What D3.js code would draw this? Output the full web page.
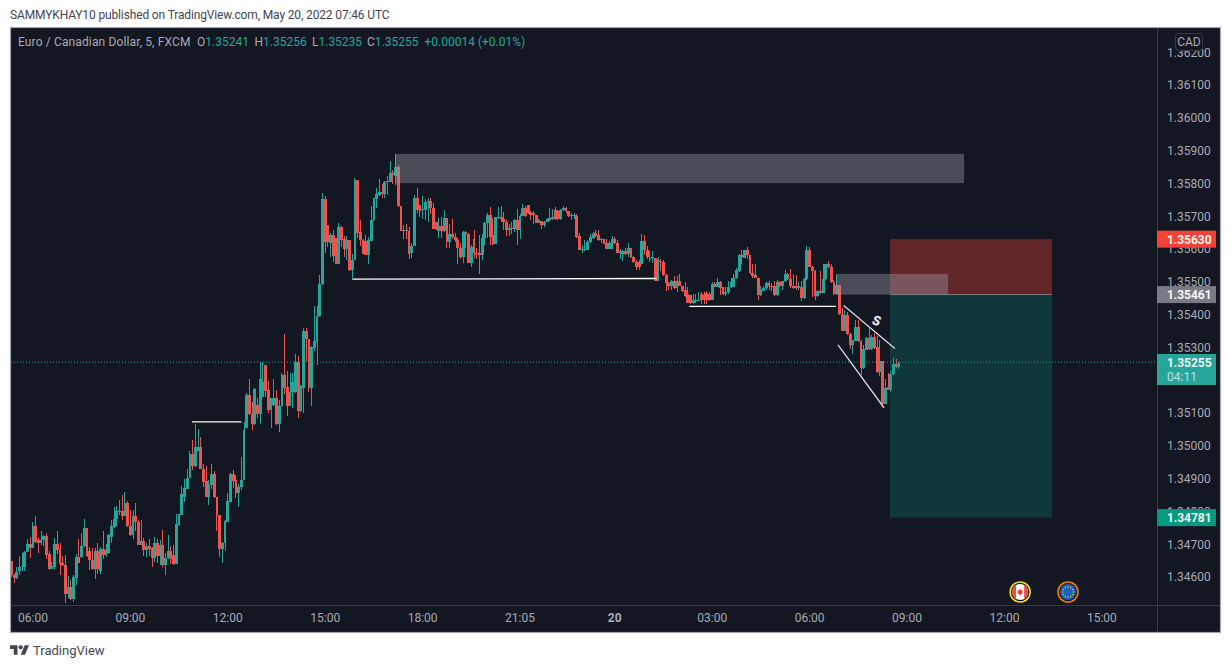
<!DOCTYPE html>
<html>
<head>
<meta charset="utf-8">
<script src="https://cdn.jsdelivr.net/npm/d3@7/dist/d3.min.js"></script>
<style>
html, body { margin: 0; padding: 0; background: #fff; }
svg { display: block; }
text { font-family: Roboto, sans-serif; font-size: 12px; }
</style>
</head>
<body>
<div id="chart"></div>
<script>
// EUR/CAD 5 minute bars, prices x 100000
const opens = [134648,134607,134598,134619,134630,134632,134677,134700,134688,134757,134712,134704,134714,134724,134670,134625,134630,134700,134685,134643,134636,134547,134571,134532,134598,134661,134660,134693,134748,134680,134652,134625,134679,134617,134685,134667,134673,134722,134752,134777,134800,134802,134787,134827,134757,134727,134787,134769,134698,134709,134683,134694,134687,134659,134705,134665,134697,134638,134657,134679,134667,134640,134760,134790,134843,134869,134903,134975,134938,134985,134997,134930,134892,134845,134880,134915,134843,134790,134685,134704,134769,134830,134913,134895,134857,134873,134897,
135055,135155,135098,135065,135124,135098,135150,135247,135169,135110,135125,135145,135067,135120,135217,135178,135122,135163,135163,135255,135105,135177,135349,135327,135175,135298,135317,135395,135493,135751,135673,135617,135643,135633,135553,135667,135629,135601,135628,135535,135565,135811,135652,135627,135625,135583,135625,135687,135751,135765,135775,135767,135803,135805,135832,135823,135850,135730,135655,135658,135655,135587,135610,135754,135735,135718,135718,135742,
135747,135724,135682,135655,135669,135655,135693,135621,135645,135637,135627,135603,135576,135651,135647,135558,135629,135587,135589,135582,135635,135679,135705,135642,135615,135695,135697,135692,135682,135657,135664,135660,135687,135657,135702,135725,135735,135712,135709,135705,135680,135684,135672,135683,135689,135692,135719,135717,135690,135719,135725,135717,135700,135701,135702,135639,135597,135597,135597,135620,135635,135649,135642,135627,135630,135619,135600,135600,135631,135617,135589,135586,135594,135586,135602,135577,135561,135559,135555,135625,135597,
135568,135573,135573,135501,135563,135560,135520,135496,135486,135503,135481,135503,135488,135475,135463,135460,135435,135441,135441,135463,135461,135465,135463,135443,135493,135485,135500,135483,135463,135468,135483,135485,135511,135533,135583,135573,135597,135581,135528,135521,135513,135461,135473,135481,135495,135488,135488,135461,135498,135488,135501,135525,135508,135488,135488,135480,135485,135451,135508,135596,135546,135533,135456,135473,135466,135508,135553,135545,135498,135463,135491,135401,135351,135398,135340,135308,135321,135363,135318,135236,135293,135328,135295,135331,135301,135225,135260,135128,135179,135171,135218,135248,135241];
const highs = [134648,134609,134632,134663,134673,134679,134715,134723,134769,134787,134720,134739,134727,134735,134678,134645,134720,134739,134705,134665,134667,134604,134590,134606,134669,134715,134733,134778,134748,134690,134687,134688,134705,134692,134739,134701,134730,134775,134813,134815,134835,134850,134858,134832,134805,134805,134825,134773,134775,134720,134705,134717,134690,134721,134717,134713,134742,134673,134727,134693,134697,134793,134793,134877,134900,134930,134985,135017,135067,135051,135027,134945,134938,134897,134945,134923,134843,134790,134707,134773,134857,134917,134927,134910,134885,134967,135072,
135160,135205,135133,135175,135145,135257,135257,135247,135197,135147,135205,135169,135140,135223,135340,135229,135223,135223,135280,135273,135185,135358,135358,135327,135305,135427,135427,135520,135772,135763,135673,135649,135658,135635,135679,135670,135640,135640,135628,135585,135817,135811,135688,135630,135643,135637,135730,135757,135785,135813,135797,135807,135823,135868,135840,135889,135857,135730,135673,135675,135667,135619,135766,135787,135735,135763,135752,135757,
135755,135740,135682,135694,135697,135720,135693,135677,135690,135649,135635,135617,135654,135655,135650,135612,135657,135602,135642,135647,135682,135710,135727,135694,135697,135727,135731,135714,135687,135677,135682,135690,135723,135707,135737,135730,135735,135717,135715,135705,135692,135684,135685,135695,135725,135722,135727,135719,135723,135732,135727,135717,135709,135709,135707,135649,135612,135627,135627,135645,135652,135659,135659,135635,135632,135629,135625,135639,135637,135627,135600,135597,135602,135617,135602,135580,135567,135567,135645,135642,135610,
135593,135593,135573,135575,135568,135565,135523,135498,135505,135518,135518,135523,135488,135498,135485,135461,135463,135463,135470,135468,135468,135471,135468,135498,135498,135513,135503,135485,135483,135501,135513,135523,135541,135585,135598,135598,135605,135583,135553,135555,135513,135488,135488,135498,135501,135495,135503,135505,135503,135503,135535,135528,135538,135523,135520,135498,135503,135513,135608,135607,135548,135535,135475,135533,135553,135555,135563,135553,135505,135520,135491,135421,135413,135408,135343,135323,135383,135385,135323,135308,135333,135358,135338,135345,135335,135323,135260,135203,135223,135228,135268,135265,135256];
const lows = [134601,134583,134595,134605,134617,134617,134675,134659,134688,134705,134673,134699,134695,134655,134620,134623,134625,134671,134607,134635,134520,134535,134529,134523,134577,134644,134659,134691,134660,134622,134620,134595,134610,134610,134655,134661,134670,134705,134749,134755,134790,134775,134785,134753,134725,134715,134740,134697,134697,134665,134662,134665,134629,134647,134643,134637,134632,134605,134655,134640,134638,134640,134757,134790,134830,134867,134901,134925,134935,134983,134928,134875,134843,134820,134867,134840,134740,134661,134643,134679,134767,134830,134870,134841,134812,134865,134895,
135055,135095,135047,135063,135085,135067,135150,135150,135100,135055,135120,135063,135043,135117,135157,135090,135120,135115,135160,135085,135103,135100,135255,135163,135122,135290,135245,135392,135490,135587,135605,135575,135560,135553,135553,135605,135575,135565,135533,135511,135565,135633,135610,135585,135583,135553,135623,135685,135725,135763,135755,135755,135765,135803,135797,135795,135727,135655,135631,135631,135569,135572,135610,135709,135697,135690,135688,135683,
135707,135660,135657,135634,135635,135653,135603,135604,135630,135620,135553,135571,135558,135602,135558,135545,135572,135569,135525,135567,135612,135635,135612,135613,135615,135690,135682,135657,135640,135640,135647,135652,135612,135629,135700,135697,135707,135687,135677,135679,135679,135661,135667,135682,135685,135689,135689,135689,135687,135715,135711,135699,135689,135692,135635,135597,135589,135593,135597,135619,135632,135637,135625,135617,135614,135599,135599,135600,135615,135587,135570,135562,135582,135575,135574,135557,135537,135535,135555,135582,135569,
135561,135558,135501,135501,135533,135518,135473,135475,135475,135478,135468,135486,135468,135453,135435,135433,135433,135435,135440,135431,135431,135433,135441,135443,135483,135483,135461,135461,135458,135463,135481,135483,135508,135531,135553,135573,135571,135525,135513,135511,135446,135458,135471,135475,135475,135473,135458,135458,135485,135475,135498,135505,135481,135478,135475,135475,135441,135448,135506,135544,135453,135443,135453,135463,135465,135505,135541,135496,135461,135461,135399,135351,135350,135338,135296,135281,135318,135315,135215,135234,135291,135291,135291,135296,135223,135213,135118,135126,135169,135163,135216,135238,135235];
const closes = [134605,134598,134615,134630,134633,134677,134700,134688,134757,134708,134704,134714,134724,134668,134625,134633,134700,134683,134641,134636,134547,134571,134532,134601,134661,134644,134695,134748,134664,134652,134625,134679,134625,134685,134667,134683,134727,134754,134778,134802,134802,134787,134827,134755,134727,134787,134767,134698,134709,134683,134694,134685,134659,134705,134665,134697,134637,134658,134679,134655,134640,134762,134792,134853,134871,134903,134975,134938,134995,134997,134928,134889,134845,134880,134915,134843,134790,134685,134705,134771,134832,134913,134893,134857,134875,134897,135047,
135155,135098,135065,135173,135098,135205,135195,135167,135110,135145,135145,135067,135120,135217,135175,135122,135165,135193,135255,135107,135183,135349,135325,135175,135301,135318,135397,135493,135751,135620,135620,135643,135580,135553,135667,135627,135601,135628,135535,135567,135811,135650,135627,135585,135583,135628,135688,135754,135769,135775,135767,135805,135808,135832,135827,135850,135730,135655,135658,135655,135585,135610,135754,135718,135715,135721,135742,135745,
135724,135660,135660,135669,135655,135693,135621,135645,135637,135627,135603,135576,135651,135647,135558,135606,135587,135585,135582,135635,135679,135705,135637,135615,135697,135697,135692,135682,135657,135664,135660,135687,135657,135702,135725,135700,135711,135704,135703,135680,135687,135672,135683,135692,135695,135699,135690,135691,135719,135725,135715,135700,135704,135704,135637,135597,135600,135600,135622,135637,135647,135640,135627,135629,135615,135600,135617,135631,135617,135589,135595,135594,135586,135602,135575,135559,135545,135545,135625,135597,135575,
135573,135575,135501,135571,135560,135520,135496,135486,135503,135481,135503,135488,135473,135458,135435,135435,135445,135446,135446,135443,135445,135443,135443,135493,135485,135500,135481,135463,135470,135485,135498,135513,135535,135583,135577,135597,135581,135528,135518,135513,135461,135475,135481,135495,135488,135485,135461,135498,135488,135501,135525,135508,135488,135481,135480,135488,135451,135508,135596,135546,135533,135456,135473,135466,135508,135553,135545,135498,135463,135491,135401,135351,135398,135340,135308,135321,135363,135318,135236,135296,135328,135295,135333,135298,135225,135260,135128,135175,135171,135220,135248,135240,135255];

const priceTicks = [136200,136100,136000,135900,135800,135700,135600,135500,135400,135300,135200,135100,135000,134900,134800,134700,134600];
const timeBars = [8,44,80,116,152,188,223,259,295,331,367,403];
const timeLabels = ['06:00','09:00','12:00','15:00','18:00','21:05','20','03:00','06:00','09:00','12:00','15:00'];

// drawings on the chart: [bar, price, bar, price]
const swingLines = [[66.8,135073,85,135073],[126,135508,238.5,135510],[250.5,135425,304.7,135425]];
const channelLines = [[307.6,135428,326.5,135297],[305.5,135308,322.5,135116]];
const zoneBars = [[141.8,352.1],[304.8,346.2]];
const zonePrices = [[135890,135801],[135524,135461]];

// short position tool
const posBars = [324.7,384.6];
const entryPrice = 135461, stopPrice = 135630, targetPrice = 134781, lastPrice = 135255;

const legendNames = ['O','H','L','C'];
const legendValues = ['1.35241','1.35256','1.35235','1.35255'];
const eventBars = [372.8,390.5];

const width = 1231, height = 668;
const plot = {left: 11, right: 1157, top: 28, bottom: 605};
const green = '#26a69a', red = '#ef5350', axisText = '#a8abb5', lineCol = '#363a45';

const svg = d3.select('#chart').append('svg').attr('width', width).attr('height', height);

svg.append('text').attr('x', 10).attr('y', 19).attr('fill', '#434651').style('letter-spacing', '-0.14px')
	.text('SAMMYKHAY10 published on TradingView.com, May 20, 2022 07:46 UTC');

svg.append('rect').attr('x', 10.5).attr('y', 27.5).attr('width', 1210).attr('height', 605)
	.attr('fill', '#131722').attr('stroke', '#a3a6af').attr('stroke-width', 1.2);

svg.append('clipPath').attr('id', 'plotclip').append('rect')
	.attr('x', plot.left).attr('y', plot.top).attr('width', plot.right - plot.left).attr('height', plot.bottom - plot.top);

// one bar is 2.706px, 36 bars to 3 hours
const x = d3.scaleLinear().domain([0, 328]).range([11.3, 898.9]);
const y = d3.scaleLinear().domain([136100, 134600]).range([85, 577]);

const chart = svg.append('g').attr('clip-path', 'url(#plotclip)');
const bars = d3.range(closes.length);

// last price dotted line goes under the candles
chart.append('line').attr('x1', plot.left).attr('x2', plot.right).attr('y1', y(lastPrice)).attr('y2', y(lastPrice))
	.attr('stroke', green).attr('stroke-dasharray', '1 2');

const candle = chart.selectAll('.bar').data(bars).enter().append('g').attr('class', 'bar')
	.attr('shape-rendering', 'crispEdges');
candle.append('line')
	.attr('x1', d => x(d)).attr('x2', d => x(d))
	.attr('y1', d => y(highs[d])).attr('y2', d => y(lows[d]))
	.attr('stroke', d => closes[d] >= opens[d] ? green : red);
candle.append('rect')
	.attr('x', d => x(d) - 1.4).attr('width', 2.8)
	.attr('y', d => y(Math.max(opens[d], closes[d])))
	.attr('height', d => Math.max(1, Math.abs(y(opens[d]) - y(closes[d]))))
	.attr('fill', d => closes[d] >= opens[d] ? green : red);

// position tool
chart.append('rect').attr('x', x(posBars[0])).attr('width', x(posBars[1]) - x(posBars[0]))
	.attr('y', y(stopPrice)).attr('height', y(entryPrice) - y(stopPrice)).attr('fill', 'rgba(242,67,54,0.36)');
chart.append('rect').attr('x', x(posBars[0])).attr('width', x(posBars[1]) - x(posBars[0]))
	.attr('y', y(entryPrice)).attr('height', y(targetPrice) - y(entryPrice)).attr('fill', 'rgba(8,153,129,0.25)');
chart.append('line').attr('x1', x(posBars[0])).attr('x2', x(posBars[1])).attr('y1', y(entryPrice)).attr('y2', y(entryPrice))
	.attr('stroke', '#787b86');

// grey zones
zoneBars.forEach((b, i) => {
	chart.append('rect').attr('x', x(b[0])).attr('width', x(b[1]) - x(b[0]))
		.attr('y', y(zonePrices[i][0])).attr('height', y(zonePrices[i][1]) - y(zonePrices[i][0]))
		.attr('fill', 'rgba(149,152,161,0.42)');
});

// hand drawn lines
chart.selectAll('.swing').data(swingLines).enter().append('line').attr('class', 'swing')
	.attr('x1', d => x(d[0])).attr('y1', d => y(d[1])).attr('x2', d => x(d[2])).attr('y2', d => y(d[3]))
	.attr('stroke', '#fff').attr('stroke-width', 1.3);
chart.selectAll('.channel').data(channelLines).enter().append('line').attr('class', 'channel')
	.attr('x1', d => x(d[0])).attr('y1', d => y(d[1])).attr('x2', d => x(d[2])).attr('y2', d => y(d[3]))
	.attr('stroke', '#d8dae0').attr('stroke-width', 1.3);
chart.append('text').attr('transform', 'translate(875.5,325) rotate(12)').attr('text-anchor', 'middle')
	.attr('fill', '#fff').attr('stroke', '#b2b5be').attr('stroke-width', 0.4)
	.style('font-size', '13px').style('font-style', 'italic').style('font-weight', 700).text('S');

// axes
svg.append('line').attr('x1', plot.right + 0.5).attr('x2', plot.right + 0.5).attr('y1', 28).attr('y2', 632).attr('stroke', lineCol);
svg.append('line').attr('x1', 11).attr('x2', 1220).attr('y1', plot.bottom + 0.5).attr('y2', plot.bottom + 0.5).attr('stroke', lineCol);

const yAxis = svg.append('g').attr('transform', 'translate(' + plot.right + ',0)')
	.call(d3.axisRight(y).tickValues(priceTicks).tickSize(0).tickPadding(10).tickFormat(d => (d / 1e5).toFixed(5)));
yAxis.select('.domain').remove();
yAxis.selectAll('text').attr('fill', axisText).style('font-size', '12px').style('font-family', 'Roboto, sans-serif');

const xAxis = svg.append('g').attr('transform', 'translate(-0.5,' + plot.bottom + ')')
	.call(d3.axisBottom(x).tickValues(timeBars).tickSize(0).tickPadding(8).tickFormat((d, i) => timeLabels[i]));
xAxis.select('.domain').remove();
xAxis.selectAll('text').attr('fill', axisText).style('font-size', '12px').style('font-family', 'Roboto, sans-serif')
	.style('font-weight', (d, i) => timeLabels[i] == '20' ? 700 : 400);

// legend on top of the plot
svg.append('text').attr('x', 18).attr('y', 46).attr('fill', axisText).style('letter-spacing', '0.13px').text('Euro / Canadian Dollar, 5, FXCM');
const legendX = [197, 254.5, 312, 367];
legendNames.forEach((n, i) => {
	const t = svg.append('text').attr('x', legendX[i]).attr('y', 46).attr('fill', axisText);
	t.append('tspan').text(n);
	t.append('tspan').attr('fill', green).text(legendValues[i]);
});
svg.append('text').attr('x', 424.5).attr('y', 46).attr('fill', green).text('+0.00014 (+0.01%)');

// currency button
svg.append('rect').attr('x', 1175.5).attr('y', 33.5).attr('width', 27).attr('height', 17).attr('rx', 3)
	.attr('fill', '#131722').attr('stroke', lineCol);
svg.append('text').attr('x', 1189).attr('y', 46).attr('text-anchor', 'middle').attr('fill', axisText).text('CAD');

// price badges
function badge(price, col) {
	const cy = y(price);
	svg.append('rect').attr('x', 1157).attr('y', cy - 8.5).attr('width', 59).attr('height', 17).attr('fill', col);
	svg.append('text').attr('x', 1167).attr('y', cy + 4.5).attr('fill', '#fff').style('font-weight', 600).text((price / 1e5).toFixed(5));
}
badge(stopPrice, '#f44336');
badge(entryPrice, '#787b86');
badge(targetPrice, '#089981');
svg.append('rect').attr('x', 1157).attr('y', 354).attr('width', 59).attr('height', 31).attr('fill', green);
svg.append('text').attr('x', 1167).attr('y', 367).attr('fill', '#fff').style('font-weight', 600).text((lastPrice / 1e5).toFixed(5));
svg.append('text').attr('x', 1167).attr('y', 381).attr('fill', 'rgba(255,255,255,0.7)').text('04:11');

// event icons on the time axis edge
const eventY = 592;
const defs = svg.append('defs');
defs.append('clipPath').attr('id', 'flagclip').append('circle').attr('r', 8);
const ca = svg.append('g').attr('transform', 'translate(' + x(eventBars[0]) + ',' + eventY + ')');
ca.append('circle').attr('r', 10).attr('fill', '#131722').attr('stroke', '#f5dc2a').attr('stroke-width', 1.6);
const caFlag = ca.append('g').attr('clip-path', 'url(#flagclip)');
caFlag.append('rect').attr('x', -8).attr('y', -8).attr('width', 16).attr('height', 16).attr('fill', '#fff');
caFlag.append('rect').attr('x', -8).attr('y', -8).attr('width', 4).attr('height', 16).attr('fill', '#ef4b4b');
caFlag.append('rect').attr('x', 4).attr('y', -8).attr('width', 4).attr('height', 16).attr('fill', '#ef4b4b');
ca.append('path').attr('d', 'M0 -3.5L1 -1.5L2.6 -2L2 0.6L3 1L0.5 2.4V3.6H-0.5V2.4L-3 1L-2 0.6L-2.6 -2L-1 -1.5Z').attr('fill', '#e53935');
const eu = svg.append('g').attr('transform', 'translate(' + x(eventBars[1]) + ',' + eventY + ')');
eu.append('circle').attr('r', 10).attr('fill', '#131722').attr('stroke', '#f57c00').attr('stroke-width', 1.6);
eu.append('circle').attr('r', 8).attr('fill', '#1d62b4');
eu.selectAll('.star').data(d3.range(12)).enter().append('circle').attr('class', 'star').attr('r', 0.7).attr('fill', '#f5d142')
	.attr('cx', d => 5.2 * Math.cos(d * Math.PI / 6)).attr('cy', d => 5.2 * Math.sin(d * Math.PI / 6));

// footer logo
const logo = svg.append('g').attr('transform', 'translate(10,643) scale(0.535)').attr('fill', '#434651');
logo.append('path').attr('d', 'M14 22H7V11H0V4h14v18zM28 22h-8l7.5-18h8L28 22z');
logo.append('circle').attr('cx', 20).attr('cy', 8).attr('r', 4);
svg.append('text').attr('x', 33).attr('y', 655).attr('fill', '#434651').style('font-size', '13px').text('TradingView');
</script>
</body>
</html>
